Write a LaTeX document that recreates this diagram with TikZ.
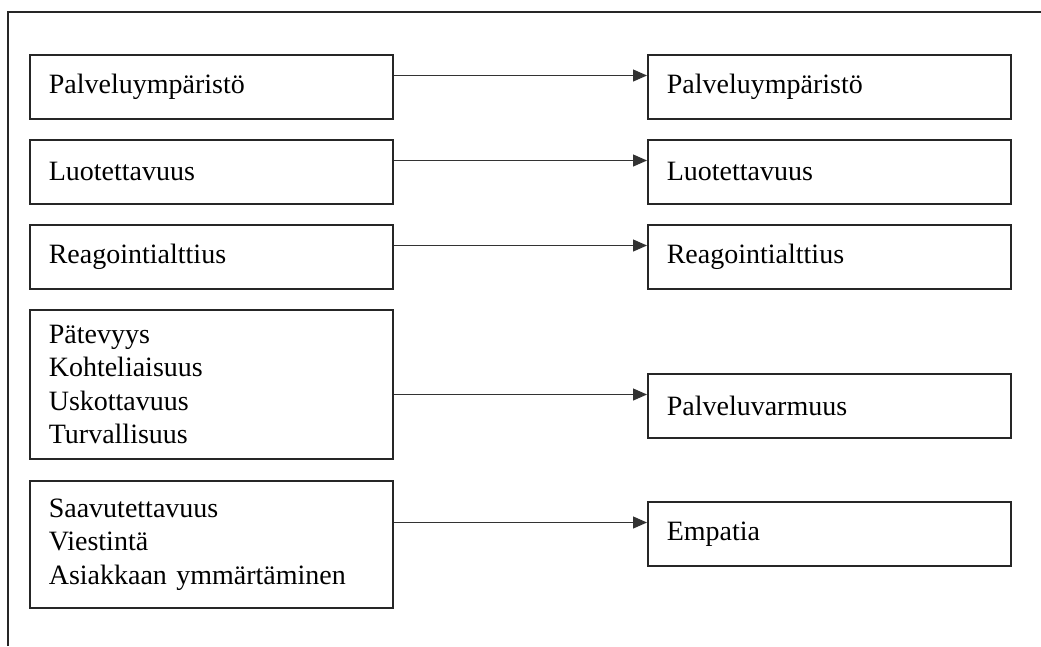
\documentclass[tikz,border=0pt]{standalone}
\usepackage{fontspec}
\setmainfont{Liberation Serif}
\usetikzlibrary{arrows.meta,calc}
\begin{document}
\begin{tikzpicture}[x=1pt,y=-1pt,
  box/.style={draw=black!85,line width=1.6pt,rectangle,anchor=north west,
    minimum width=363pt,minimum height=64pt,text width=325pt,inner xsep=19pt,
    align=left,font=\fontsize{28}{33.5}\selectfont},
  link/.style={draw=black!80,line width=1.2pt,-{Triangle[length=14pt,width=12pt]}}]
\useasboundingbox (0,0) rectangle (1041,646);
\draw[line width=1.6pt,black!85] (8,646) -- (8,12) -- (1041,12);
% left boxes
\node[box] (l1) at (29,54) {Palveluympäristö};
\node[box] (l2) at (29,139) {Luotettavuus};
\node[box] (l3) at (29,224) {Reagointialttius};
\node[box,minimum height=149pt] (l4) at (29,309) {Pätevyys\\Kohteliaisuus\\Uskottavuus\\Turvallisuus};
\node[box,minimum height=127pt] (l5) at (29,480) {Saavutettavuus\\Viestintä\\Asiakkaan ymmärtäminen};
% right boxes
\node[box] (r1) at (647,54) {Palveluympäristö};
\node[box] (r2) at (647,139) {Luotettavuus};
\node[box] (r3) at (647,224) {Reagointialttius};
\node[box] (r4) at (647,373) {Palveluvarmuus};
\node[box] (r5) at (647,501) {Empatia};
% ports
\foreach \i in {1,...,5}{
  \coordinate (p\i) at ($(r\i.north west)+(0,21.5)$);
  \draw[link] (l\i.east |- p\i) -- (p\i);
}
\end{tikzpicture}
\end{document}
